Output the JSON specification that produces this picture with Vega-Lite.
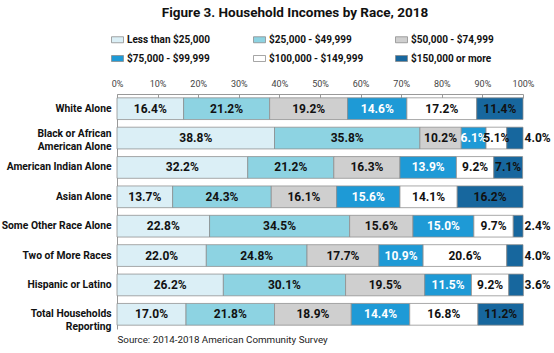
{
  "$schema": "https://vega.github.io/schema/vega-lite/v6.json",
  "width": 406,
  "height": 235,
  "padding": {"left": 1, "top": 5, "right": 1, "bottom": 5},
  "config": {"font": "Roboto", "view": {"stroke": null}},
  "title": {"text": "Figure 3. Household Incomes by Race, 2018", "fontSize": 13.5, "fontWeight": "bold", "color": "#111", "anchor": "middle", "frame": "group", "dx": -25, "offset": 14},
  "data": {"values": [
    {"race": "White Alone", "bracket": "Less than $25,000", "order": 1, "value": 16.4},
    {"race": "White Alone", "bracket": "$25,000 - $49,999", "order": 2, "value": 21.2},
    {"race": "White Alone", "bracket": "$50,000 - $74,999", "order": 3, "value": 19.2},
    {"race": "White Alone", "bracket": "$75,000 - $99,999", "order": 4, "value": 14.6},
    {"race": "White Alone", "bracket": "$100,000 - $149,999", "order": 5, "value": 17.2},
    {"race": "White Alone", "bracket": "$150,000 or more", "order": 6, "value": 11.4},
    {"race": "Black or African|American Alone", "bracket": "Less than $25,000", "order": 1, "value": 38.8},
    {"race": "Black or African|American Alone", "bracket": "$25,000 - $49,999", "order": 2, "value": 35.8},
    {"race": "Black or African|American Alone", "bracket": "$50,000 - $74,999", "order": 3, "value": 10.2},
    {"race": "Black or African|American Alone", "bracket": "$75,000 - $99,999", "order": 4, "value": 6.1},
    {"race": "Black or African|American Alone", "bracket": "$100,000 - $149,999", "order": 5, "value": 5.1},
    {"race": "Black or African|American Alone", "bracket": "$150,000 or more", "order": 6, "value": 4.0},
    {"race": "American Indian Alone", "bracket": "Less than $25,000", "order": 1, "value": 32.2},
    {"race": "American Indian Alone", "bracket": "$25,000 - $49,999", "order": 2, "value": 21.2},
    {"race": "American Indian Alone", "bracket": "$50,000 - $74,999", "order": 3, "value": 16.3},
    {"race": "American Indian Alone", "bracket": "$75,000 - $99,999", "order": 4, "value": 13.9},
    {"race": "American Indian Alone", "bracket": "$100,000 - $149,999", "order": 5, "value": 9.2},
    {"race": "American Indian Alone", "bracket": "$150,000 or more", "order": 6, "value": 7.1},
    {"race": "Asian Alone", "bracket": "Less than $25,000", "order": 1, "value": 13.7},
    {"race": "Asian Alone", "bracket": "$25,000 - $49,999", "order": 2, "value": 24.3},
    {"race": "Asian Alone", "bracket": "$50,000 - $74,999", "order": 3, "value": 16.1},
    {"race": "Asian Alone", "bracket": "$75,000 - $99,999", "order": 4, "value": 15.6},
    {"race": "Asian Alone", "bracket": "$100,000 - $149,999", "order": 5, "value": 14.1},
    {"race": "Asian Alone", "bracket": "$150,000 or more", "order": 6, "value": 16.2},
    {"race": "Some Other Race Alone", "bracket": "Less than $25,000", "order": 1, "value": 22.8},
    {"race": "Some Other Race Alone", "bracket": "$25,000 - $49,999", "order": 2, "value": 34.5},
    {"race": "Some Other Race Alone", "bracket": "$50,000 - $74,999", "order": 3, "value": 15.6},
    {"race": "Some Other Race Alone", "bracket": "$75,000 - $99,999", "order": 4, "value": 15.0},
    {"race": "Some Other Race Alone", "bracket": "$100,000 - $149,999", "order": 5, "value": 9.7},
    {"race": "Some Other Race Alone", "bracket": "$150,000 or more", "order": 6, "value": 2.4},
    {"race": "Two of More Races", "bracket": "Less than $25,000", "order": 1, "value": 22.0},
    {"race": "Two of More Races", "bracket": "$25,000 - $49,999", "order": 2, "value": 24.8},
    {"race": "Two of More Races", "bracket": "$50,000 - $74,999", "order": 3, "value": 17.7},
    {"race": "Two of More Races", "bracket": "$75,000 - $99,999", "order": 4, "value": 10.9},
    {"race": "Two of More Races", "bracket": "$100,000 - $149,999", "order": 5, "value": 20.6},
    {"race": "Two of More Races", "bracket": "$150,000 or more", "order": 6, "value": 4.0},
    {"race": "Hispanic or Latino", "bracket": "Less than $25,000", "order": 1, "value": 26.2},
    {"race": "Hispanic or Latino", "bracket": "$25,000 - $49,999", "order": 2, "value": 30.1},
    {"race": "Hispanic or Latino", "bracket": "$50,000 - $74,999", "order": 3, "value": 19.5},
    {"race": "Hispanic or Latino", "bracket": "$75,000 - $99,999", "order": 4, "value": 11.5},
    {"race": "Hispanic or Latino", "bracket": "$100,000 - $149,999", "order": 5, "value": 9.2},
    {"race": "Hispanic or Latino", "bracket": "$150,000 or more", "order": 6, "value": 3.6},
    {"race": "Total Households|Reporting", "bracket": "Less than $25,000", "order": 1, "value": 17.0},
    {"race": "Total Households|Reporting", "bracket": "$25,000 - $49,999", "order": 2, "value": 21.8},
    {"race": "Total Households|Reporting", "bracket": "$50,000 - $74,999", "order": 3, "value": 18.9},
    {"race": "Total Households|Reporting", "bracket": "$75,000 - $99,999", "order": 4, "value": 14.4},
    {"race": "Total Households|Reporting", "bracket": "$100,000 - $149,999", "order": 5, "value": 16.8},
    {"race": "Total Households|Reporting", "bracket": "$150,000 or more", "order": 6, "value": 11.2}
  ]},
  "transform": [
    {"stack": "value", "groupby": ["race"], "sort": [{"field": "order", "order": "ascending"}], "as": ["x0", "x1"]},
    {"calculate": "format(datum.value, '.1f') + '%'", "as": "label"},
    {"calculate": "datum.order == 6 && datum.value < 5 ? 103.6 : (datum.x0 + datum.x1) / 2", "as": "lx"}
  ],
  "encoding": {
    "y": {
      "field": "race", "type": "nominal",
      "sort": ["White Alone", "Black or African|American Alone", "American Indian Alone", "Asian Alone", "Some Other Race Alone", "Two of More Races", "Hispanic or Latino", "Total Households|Reporting"],
      "scale": {"paddingInner": 0.26, "paddingOuter": 0.13},
      "axis": {"title": null, "ticks": false, "domain": true, "domainColor": "#999", "domainWidth": 1, "labelFontSize": 10.3, "labelFontWeight": "bold", "labelColor": "#111", "labelPadding": 6, "labelExpr": "split(datum.label, '|')", "labelLineHeight": 13,
        "labelOffset": {"condition": {"test": "datum.value === 'Black or African|American Alone'", "value": -4}, "value": 0}}
    }
  },
  "layer": [
    {
      "mark": {"type": "bar", "stroke": "#8c8c8c", "strokeWidth": 0.75},
      "encoding": {
        "x": {"field": "x0", "type": "quantitative", "scale": {"domain": [0, 100], "nice": false},
          "axis": {"orient": "top", "title": null, "values": [0, 10, 20, 30, 40, 50, 60, 70, 80, 90, 100], "labelExpr": "datum.value + '%'", "grid": false, "labelFontSize": 9, "labelColor": "#444", "domainColor": "#999", "tickColor": "#999", "tickSize": -4, "labelPadding": 10, "labelFlush": false}},
        "x2": {"field": "x1"},
        "color": {
          "field": "bracket", "type": "nominal",
          "scale": {
            "domain": ["Less than $25,000", "$25,000 - $49,999", "$50,000 - $74,999", "$75,000 - $99,999", "$100,000 - $149,999", "$150,000 or more"],
            "range": ["#dbeff6", "#8dd3e2", "#cfcfcf", "#1e9ad6", "#ffffff", "#17679e"]
          },
          "legend": {"title": null, "orient": "none", "legendX": -6, "legendY": -61, "columns": 3, "direction": "horizontal", "symbolType": "M-1,-0.5H1V0.5H-1Z", "symbolSize": 144, "symbolStrokeColor": "#888", "symbolStrokeWidth": 0.75, "symbolOpacity": 1, "labelFontSize": 10, "labelFontWeight": "bold", "labelColor": "#111", "labelOffset": 3, "columnPadding": 30, "rowPadding": 7, "gridAlign": "all", "labelLimit": 200}
        }
      }
    },
    {
      "mark": {"type": "text", "fontWeight": "bold", "fontSize": 12},
      "encoding": {
        "x": {"field": "lx", "type": "quantitative",
          "axis": {"orient": "bottom", "title": "Source: 2014-2018 American Community Survey", "labels": false, "ticks": false, "domain": false, "grid": false, "titleAnchor": "start", "titleFontSize": 9.8, "titleFontWeight": "normal", "titleColor": "#222", "titlePadding": 5}},
        "text": {"field": "label"},
        "color": {"condition": {"test": "datum.order == 4", "value": "#ffffff"}, "value": "#111111"}
      }
    }
  ],
  "resolve": {"axis": {"x": "independent"}}
}
